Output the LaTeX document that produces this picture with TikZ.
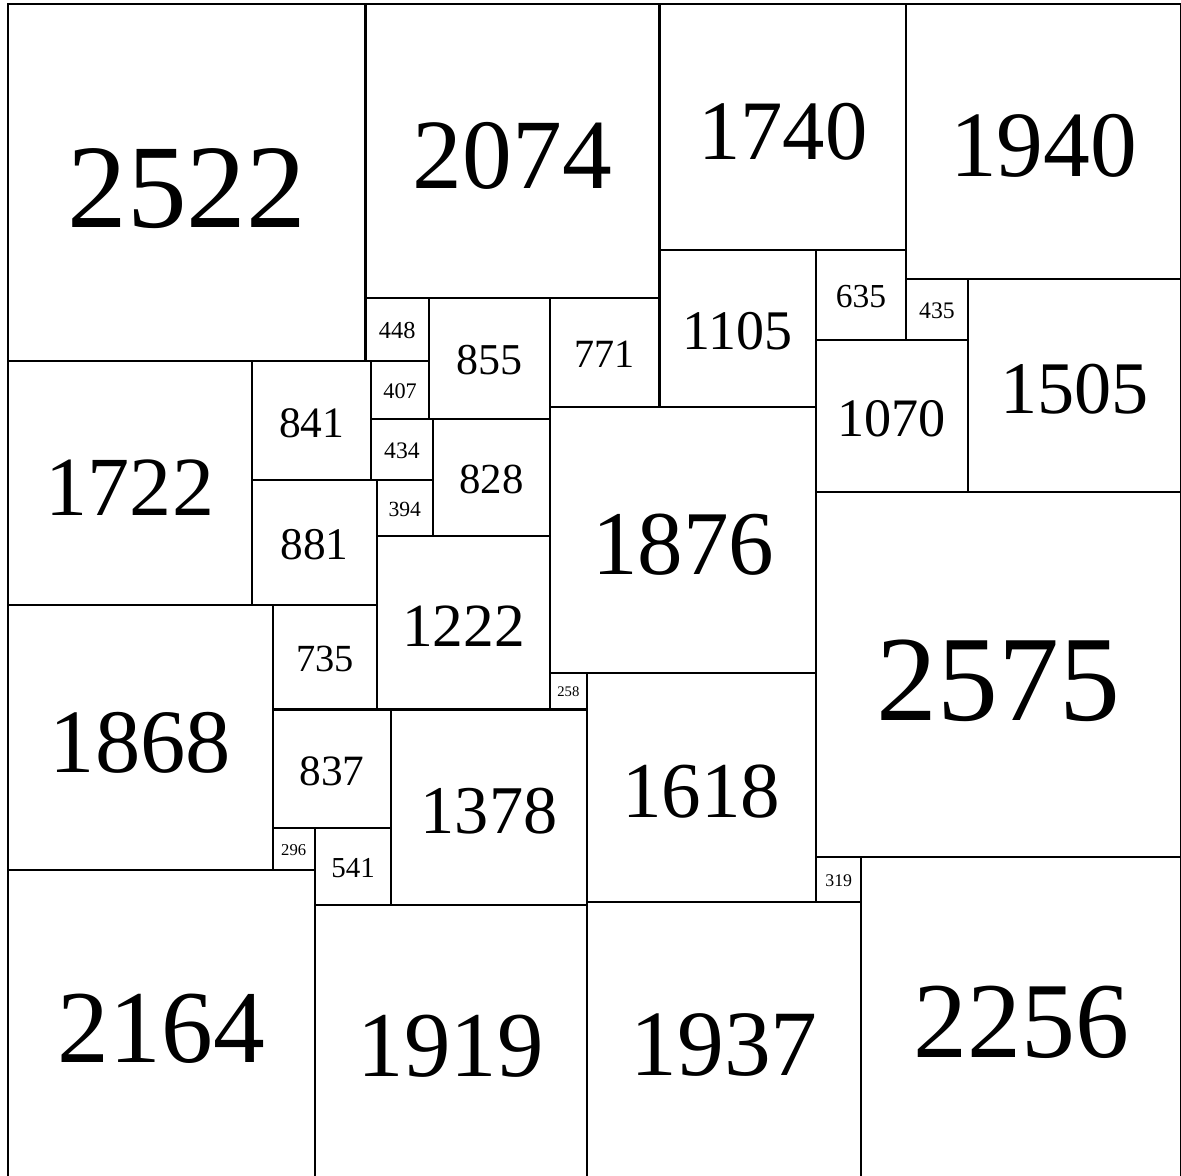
\documentclass[tikz,border=0pt]{standalone}
\usepackage{fontspec}
\setmainfont{Liberation Serif}
\usepackage{tikz}
\tikzset{
  sq/.style={draw=black,line width=0.45pt},
  num/.style={font=\fontsize{#1pt}{#1pt}\selectfont,inner sep=0pt}
}

\begin{document}
\begin{tikzpicture}[x=0.001cm,y=-0.001cm]
  \useasboundingbox (-56,-26) rectangle (8276,8266);
  % top row
  \draw[sq] (0,0) rectangle ++(2522,2522);
  \node[num=24.1] (s2522) at (1261,1306) {2522};
  \draw[sq] (2522,0) rectangle ++(2074,2074);
  \node[num=20.1] (s2074) at (3559,1074) {2074};
  \draw[sq] (4596,0) rectangle ++(1740,1740);
  \node[num=17.1] (s1740) at (5466,901) {1740};
  \draw[sq] (6336,0) rectangle ++(1940,1940);
  \node[num=18.9] (s1940) at (7306,1005) {1940};
  % under 2074 and 1740
  \draw[sq] (2522,2074) rectangle ++(448,448);
  \node[num=4.92] (s448) at (2746,2306) {448};
  \draw[sq] (2970,2074) rectangle ++(855,855);
  \node[num=8.9] (s855) at (3398,2517) {855};
  \draw[sq] (3825,2074) rectangle ++(771,771);
  \node[num=8.1] (s771) at (4211,2474) {771};
  \draw[sq] (4596,1740) rectangle ++(1105,1105);
  \node[num=11.3] (s1105) at (5149,2313) {1105};
  \draw[sq] (5701,1740) rectangle ++(635,635);
  \node[num=6.78] (s635) at (6019,2069) {635};
  % right side
  \draw[sq] (6336,1940) rectangle ++(435,435);
  \node[num=4.79] (s435) at (6554,2166) {435};
  \draw[sq] (6771,1940) rectangle ++(1505,1505);
  \node[num=15.0] (s1505) at (7524,2720) {1505};
  \draw[sq] (5701,2375) rectangle ++(1070,1070);
  \node[num=10.95] (s1070) at (6236,2929) {1070};
  \draw[sq] (5701,3445) rectangle ++(2575,2575);
  \node[num=24.6] (s2575) at (6989,4779) {2575};
  % middle
  \draw[sq] (3825,2845) rectangle ++(1876,1876);
  \node[num=18.4] (s1876) at (4763,3817) {1876};
  \draw[sq] (0,2522) rectangle ++(1722,1722);
  \node[num=17.0] (s1722) at (861,3414) {1722};
  \draw[sq] (1722,2522) rectangle ++(841,841);
  \node[num=8.78] (s841) at (2143,2958) {841};
  \draw[sq] (2563,2522) rectangle ++(407,407);
  \node[num=4.5] (s407) at (2767,2733) {407};
  \draw[sq] (2563,2929) rectangle ++(434,434);
  \node[num=4.78] (s434) at (2780,3154) {434};
  \draw[sq] (2997,2929) rectangle ++(828,828);
  \node[num=8.65] (s828) at (3411,3358) {828};
  \draw[sq] (1722,3363) rectangle ++(881,881);
  \node[num=9.16] (s881) at (2163,3820) {881};
  \draw[sq] (2603,3363) rectangle ++(394,394);
  \node[num=4.37] (s394) at (2800,3567) {394};
  \draw[sq] (2603,3757) rectangle ++(1222,1222);
  \node[num=12.4] (s1222) at (3214,4390) {1222};
  \draw[sq] (0,4244) rectangle ++(1868,1868);
  \node[num=18.3] (s1868) at (934,5212) {1868};
  \draw[sq] (1868,4244) rectangle ++(735,735);
  \node[num=7.76] (s735) at (2236,4625) {735};
  \draw[sq] (3825,4721) rectangle ++(258,258);
  \node[num=2.96] (s258) at (3954,4855) {258};
  \draw[sq] (4083,4721) rectangle ++(1618,1618);
  \node[num=16.0] (s1618) at (4892,5559) {1618};
  \draw[sq] (1868,4979) rectangle ++(837,837);
  \node[num=8.74] (s837) at (2287,5413) {837};
  \draw[sq] (2705,4979) rectangle ++(1378,1378);
  \node[num=13.8] (s1378) at (3394,5693) {1378};
  \draw[sq] (1868,5816) rectangle ++(296,296);
  \node[num=3.36] (s296) at (2016,5969) {296};
  \draw[sq] (2164,5816) rectangle ++(541,541);
  \node[num=5.85] (s541) at (2435,6097) {541};
  \draw[sq] (5701,6020) rectangle ++(319,319);
  \node[num=3.6] (s319) at (5861,6186) {319};
  % bottom row
  \draw[sq] (0,6112) rectangle ++(2164,2164);
  \node[num=20.9] (s2164) at (1082,7233) {2164};
  \draw[sq] (2164,6357) rectangle ++(1919,1919);
  \node[num=18.75] (s1919) at (3124,7352) {1919};
  \draw[sq] (4083,6339) rectangle ++(1937,1937);
  \node[num=18.9] (s1937) at (5052,7343) {1937};
  \draw[sq] (6020,6020) rectangle ++(2256,2256);
  \node[num=21.8] (s2256) at (7148,7189) {2256};
\end{tikzpicture}
\end{document}
